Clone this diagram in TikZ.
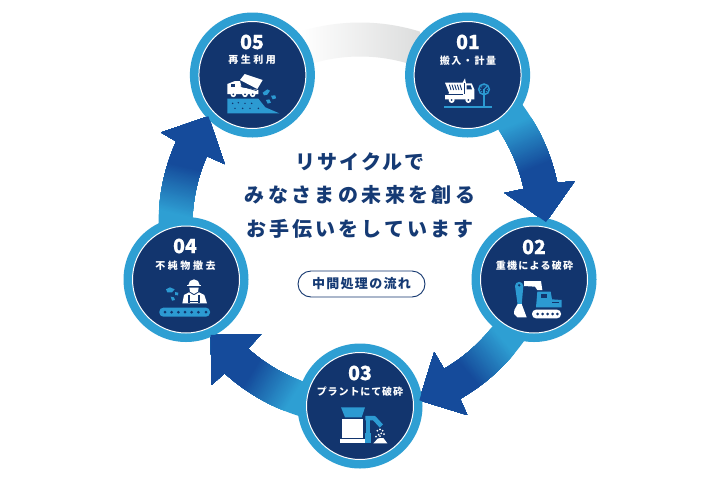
\documentclass[tikz,border=0pt]{standalone}
\usepackage{fontspec}
\setmainfont{Noto Sans CJK JP}
\definecolor{navy}{HTML}{12356E}
\definecolor{ringb}{HTML}{2E9FD3}
\definecolor{iconb}{HTML}{2C9AD2}
\definecolor{txtn}{HTML}{153A74}
\definecolor{deep}{HTML}{154B9B}
\definecolor{pale}{HTML}{DCDDDD}
\tikzset{
  outerc/.style={circle,fill=ringb,minimum size=125,inner sep=0pt},
  innerc/.style={circle,fill=navy,draw=white,line width=1pt,minimum size=107,inner sep=0pt},
  numtxt/.style={text=white,font=\fontsize{19.5}{19.5}\selectfont\bfseries\addfontfeature{FakeBold=0.5},inner sep=0pt},
  labtxt/.style={text=white,font=\fontsize{10}{10}\selectfont\bfseries,inner sep=0pt},
  headtxt/.style={text=txtn,font=\fontsize{20}{20}\selectfont\bfseries,inner sep=0pt},
  pill/.style={rounded corners=13,draw=navy,line width=0.9pt,fill=white,minimum width=127,minimum height=26,inner sep=0pt,text=txtn,font=\fontsize{13}{13}\selectfont\bfseries\addfontfeature{LetterSpace=10}},
  icon/.style={scale=1/3}
}
\newcommand\lsp[2]{\addfontfeature{LetterSpace=#1}#2}
\newcommand\arrowpath[1]{({#1-45}:167.5) arc[start angle={#1-45},end angle={#1-12.1},radius=167.5]
  -- ({#1-12.1}:148) -- ({#1-0.6}:186) -- ({#1-11.3}:219) -- ({#1-11.8}:201.5)
  arc[start angle={#1-11.8},end angle={#1-45},radius=201.5] -- cycle}
\newcommand\headpath[1]{({#1-12.1}:148) -- ({#1-0.6}:186) -- ({#1-11.3}:219) -- cycle}
\newcommand\flowarrow[1]{%
  \begin{scope}
    \clip \arrowpath{#1};
    \fill[ringb] (-300,-300) rectangle (300,300);
    \begin{scope}[shift={({#1-33}:185)},rotate={-(#1+67.5)}]
      \foreach \i in {0,...,40} {
        \pgfmathsetmacro\pct{100-2.5*\i}
        \fill[ringb!\pct!deep] ({1.2*\i},-130) rectangle (130,130);
      }
    \end{scope}
  \end{scope}}
\begin{document}
\begin{tikzpicture}[x=1pt,y=-1pt]
\useasboundingbox (0,0) rectangle (720,480);
\fill[white] (0,0) rectangle (720,480);
% pale band
\begin{scope}[shift={(360,224)}]
  \begin{scope}
    \clip (-126:167.5) arc[start angle=-126,end angle=-54,radius=167.5] -- (-54:201.5) arc[start angle=-54,end angle=-126,radius=201.5] -- cycle;
    \shade[left color=white,right color=pale] (-60,-210) rectangle (60,-150);
  \end{scope}
  \flowarrow{0}\flowarrow{72}\flowarrow{144}\flowarrow{216}
\end{scope}
% circles
\node[outerc] (o1) at (467.6,75) {}; \node[innerc] (i1) at (o1) {};
\node[outerc] (o2) at (534,279.5) {}; \node[innerc] (i2) at (o2) {};
\node[outerc] (o3) at (360,406) {}; \node[innerc] (i3) at (o3) {};
\node[outerc] (o4) at (186,279.5) {}; \node[innerc] (i4) at (o4) {};
\node[outerc] (o5) at (252.4,75) {}; \node[innerc] (i5) at (o5) {};
% arrow heads above circles
\begin{scope}[shift={(360,224)}]
  \fill[deep] \headpath{0}; \fill[deep] \headpath{72}; \fill[deep] \headpath{144}; \fill[deep] \headpath{216};
\end{scope}
% numbers and labels
\node[numtxt] (n1) at (468,42) {01};
\node[labtxt] (l1) at (468,61) {\lsp{16}{搬入・計量}};
\node[numtxt] (n2) at (534,247) {02};
\node[labtxt] (l2) at (534.5,266) {\lsp{13}{重機による破砕}};
\node[numtxt] (n3) at (360,373) {03};
\node[labtxt] (l3) at (360,392) {\lsp{9}{プラントにて破砕}};
\node[numtxt] (n4) at (185,246) {04};
\node[labtxt] (l4) at (185.5,266) {\lsp{26}{不純物撤去}};
\node[numtxt] (n5) at (252,42) {05};
\node[labtxt] (l5) at (252,60) {\lsp{25}{再生利用}};
% centre text
\node[headtxt] (h1) at (360,162) {\lsp{10}{リサイクルで}};
\node[headtxt] (h2) at (360,195) {\lsp{17}{みなさまの未来を創る}};
\node[headtxt] (h3) at (360,229) {\lsp{15}{お手伝いをしています}};
\node[pill] (p) at (361.5,284) {中間処理の流れ};
% icon 01
\begin{scope}[shift={(400,0)},icon]
  \fill[white] (135,248) -- (188,248) -- (195,235) -- (198,250) -- (215,250) -- (223,268) -- (223,298) -- (135,298) -- (135,285) -- (148,280) -- cycle;
  \draw[navy,line width=0.8pt] (135,283) -- (190,283);
  \draw[navy,line width=0.8pt] (193,250) -- (193,283);
  \fill[navy] (200,256) -- (212,256) -- (216,268) -- (200,268) -- cycle;
  \foreach \x in {148,156,164,172,180} \draw[navy,line width=0.9pt] (\x,254) -- (\x+5,270);
  \fill[white] (155,300) circle (9); \fill[navy] (155,300) circle (3);
  \fill[white] (205,300) circle (9); \fill[navy] (205,300) circle (3);
  \fill[iconb] (132,318) rectangle (275,323);
  \draw[iconb,line width=1.5pt] (252,268) circle (16);
  \fill[iconb] (250,268) rectangle (254,318);
  \draw[iconb,line width=1pt] (252,268) -- (262,258);
  \foreach \a in {0,45,90,135,180,225,270,315} \fill[iconb] (252,268) ++(\a:10) circle (2);
\end{scope}
% icon 02
\begin{scope}[shift={(480,210)},icon]
  \fill[iconb] (105,228) arc[start angle=180,end angle=360,radius=12.5] -- (125,285) -- (113,285) -- cycle;
  \fill[navy] (117.5,226) circle (4);
  \fill[white] (132,213) -- (183,213) -- (187,240) -- (172,240) -- (165,230) -- (132,228) -- cycle;
  \fill[white] (113,282) -- (125,282) -- (140,322) -- (112,322) -- (102,312) -- (103,300) -- cycle;
  \fill[iconb] (172,245) -- (212,245) -- (216,268) -- (245,270) -- (245,292) -- (168,292) -- cycle;
  \fill[navy] (183,253) rectangle (200,265);
  \fill[navy] (215,276) rectangle (238,280);
  \fill[white,rounded corners=4] (156,299) rectangle (243,325);
  \foreach \x in {173,188,203,218,232} \fill[navy] (\x,312) circle (4.5);
\end{scope}
% icon 03
\begin{scope}[shift={(300,340)},icon]
  \fill[iconb] (123,202) -- (195,202) -- (185,232) -- (135,232) -- cycle;
  \fill[white] (127,236) rectangle (190,293);
  \fill[white] (120,296) rectangle (197,310);
  \draw[iconb,line width=4.5pt,line join=round] (196,234) -- (222,234) -- (244,258);
  \fill[iconb] (196,280) rectangle (213,310);
  \draw[iconb,line width=4pt] (205,238) -- (205,280);
  \fill[white] (220,310) -- (234,295) -- (250,294) -- (262,310) -- cycle;
  \foreach \x/\y in {232/272, 240/268, 248/272, 244/280, 252/282, 236/284, 228/290, 240/288} \fill[white] (\x,\y) circle (3);
\end{scope}
% icon 04
\begin{scope}[shift={(120,210)},icon]
  \fill[iconb,rounded corners=4] (118,293) rectangle (270,320);
  \foreach \x in {135,155,175,195,215,235,258} \fill[navy] (\x,306.5) circle (4.5);
  \fill[white] (205,225) arc[start angle=180,end angle=360,radius=17] -- cycle;
  \fill[white] (200,224) rectangle (244,229);
  \fill[white] (208,233) -- (236,233) -- (234,245) -- (222,252) -- (210,245) -- cycle;
  \fill[white] (187,280) -- (192,255) -- (207,247) -- (222,256) -- (237,247) -- (253,255) -- (261,280) -- cycle;
  \fill[navy] (205,256) rectangle (209,280);
  \fill[navy] (235,256) rectangle (239,280);
  \fill[navy] (209,272) rectangle (235,276);
  \fill[iconb] (138,238) -- (150,232) -- (164,238) -- (156,247) -- (142,247) -- cycle;
  \fill[iconb] (165,246) -- (175,248) -- (174,256) -- (165,255) -- cycle;
  \fill[iconb] (152,260) -- (162,262) -- (165,270) -- (156,272) -- cycle;
\end{scope}
% icon 05
\begin{scope}[shift={(190,0)},icon]
  \fill[white] (150,240) -- (164,222) -- (218,240) -- (202,267) -- cycle;
  \fill[white] (112,252) -- (135,243) -- (150,243) -- (155,262) -- (205,270) -- (205,282) -- (112,282) -- cycle;
  \fill[navy] (122,253) rectangle (135,262);
  \draw[navy,line width=0.7pt] (152,258) -- (200,272);
  \foreach \x in {130,165,188} {\fill[white] (\x,283) circle (8.5); \fill[navy] (\x,283) circle (3);}
  \fill[iconb] (112,296) -- (205,296) -- (226,322) -- (268,340) -- (112,340) -- cycle;
  \foreach \x/\y in {128/310, 145/308, 165/310, 185/310, 135/325, 158/325, 180/325, 205/325} \fill[navy] (\x,\y) circle (2.5);
  \fill[iconb] (218,278) -- (232,268) -- (240,272) -- (232,284) -- (222,286) -- cycle;
  \fill[iconb] (243,287) -- (256,286) -- (258,295) -- (248,298) -- cycle;
  \fill[iconb] (228,300) -- (238,298) -- (243,308) -- (233,311) -- cycle;
\end{scope}
\end{tikzpicture}
\end{document}
